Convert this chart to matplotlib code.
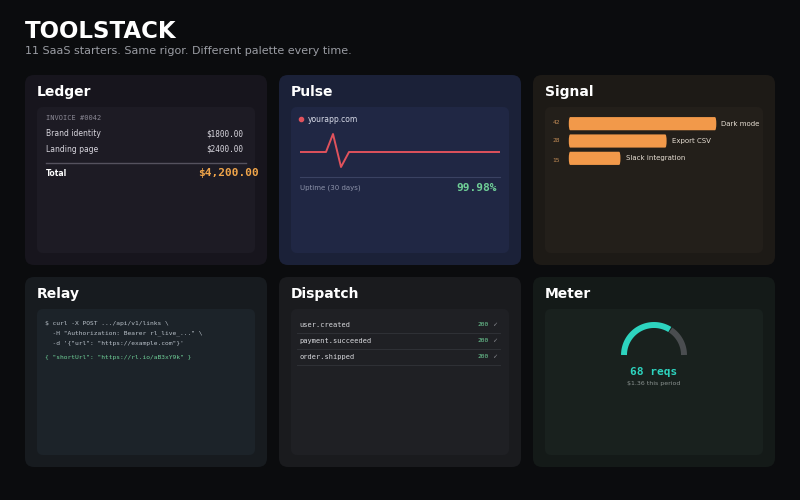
import numpy as np
import matplotlib.pyplot as plt
from matplotlib.patches import FancyBboxPatch

# data
invoice_items = ["Brand identity", "Landing page"]
invoice_amounts = [1800.00, 2400.00]
invoice_total = 4200.00
pulse_x = [0, 26, 33, 41, 49, 200]
pulse_y = [0, 0, 18, -15, 0, 0]
uptime = 99.98
features = ["Dark mode", "Export CSV", "Slack integration"]
votes = [42, 28, 15]
events = ["user.created", "payment.succeeded", "order.shipped"]
statuses = [200, 200, 200]
meter_reqs = 68
meter_frac = 0.68
meter_cost = 1.36

BG = "#0b0c0e"
MONO = "DejaVu Sans Mono"

fig = plt.figure(figsize=(8, 5), dpi=100, facecolor=BG)
ax = fig.add_axes([0, 0, 1, 1])
ax.set_xlim(0, 800)
ax.set_ylim(500, 0)
ax.set_axis_off()


def card(x, y, w, h, color, r=10):
    ax.add_patch(FancyBboxPatch((x + r, y + r), w - 2 * r, h - 2 * r,
                                boxstyle=f"round,pad={r}", fc=color, ec="none"))


ax.text(25, 31, "TOOLSTACK", color="white", fontsize=16.5, weight="bold", va="center")
ax.text(25, 51, "11 SaaS starters. Same rigor. Different palette every time.",
        color="#9a9ca3", fontsize=8, va="center")

cols = [25, 279, 533]
rows = [75, 277]
names = [["Ledger", "Pulse", "Signal"], ["Relay", "Dispatch", "Meter"]]
outer = [["#17151d", "#1b2138", "#1d1a16"], ["#171b1f", "#1a1b1e", "#141a18"]]
inner = [["#1d1b24", "#202744", "#231f1a"], ["#1c2329", "#1f2024", "#19211e"]]
for i, y in enumerate(rows):
    for j, x in enumerate(cols):
        card(x, y, 242, 190, outer[i][j], r=9)
        card(x + 12, y + 32, 218, 146, inner[i][j], r=6)
        ax.text(x + 12, y + 17, names[i][j], color="white", fontsize=10,
                weight="bold", va="center")

# Ledger
ax.text(46, 118, "INVOICE #0042", color="#8a8894", fontsize=5, family=MONO, va="center")
for k, (item, amt) in enumerate(zip(invoice_items, invoice_amounts)):
    yy = 134 + 15 * k
    ax.text(46, yy, item, color="#d8d6de", fontsize=5.5, va="center")
    ax.text(243, yy, f"${amt:.2f}", color="#d8d6de", fontsize=5.5, family=MONO,
            va="center", ha="right")
ax.plot([46, 246], [163, 163], color="#55525e", lw=1)
ax.text(46, 173, "Total", color="white", fontsize=5.5, weight="bold", va="center")
ax.text(259, 173, f"${invoice_total:,.2f}", color="#f0a54a", fontsize=8,
        weight="bold", family=MONO, va="center", ha="right")

# Pulse
ax.plot(301, 119, "o", color="#e0525c", ms=3)
ax.text(308, 119, "yourapp.com", color="#d8dbe8", fontsize=5.5, va="center")
pax = fig.add_axes([300 / 800, 1 - 175 / 500, 200 / 800, 50 / 500])
pax.set_xlim(0, 200)
pax.set_ylim(-23, 27)
pax.set_axis_off()
pax.plot(pulse_x, pulse_y, color="#e0525c", lw=1.4)
ax.plot([300, 500], [177, 177], color="#3a4262", lw=0.8)
ax.text(300, 188, "Uptime (30 days)", color="#8d93aa", fontsize=5, va="center")
ax.text(497, 188, f"{uptime:.2f}%", color="#6fcf97", fontsize=8, weight="bold",
        family=MONO, va="center", ha="right")

# Signal
sax = fig.add_axes([568 / 800, 1 - 167 / 500, 195 / 800, 52 / 500])
sax.set_xlim(0, 195 / 3.55)
sax.set_ylim(2.5, -0.5)
sax.set_axis_off()
for k, (f, v) in enumerate(zip(features, votes)):
    sax.add_patch(FancyBboxPatch((0.3, k - 0.3), v - 0.6, 0.6,
                                 boxstyle="round,pad=0.08,rounding_size=0.4",
                                 fc="#f2994a", ec="none", mutation_aspect=1))
    sax.text(v + 1.2, k, f, color="#e6ded3", fontsize=5, va="center")
    ax.text(556, 122 + 19 * k, str(v), color="#c08a55", fontsize=4.5,
            family=MONO, va="center", ha="center")

# Relay
relay_lines = ["$ curl -X POST .../api/v1/links \\",
               "  -H \"Authorization: Bearer rl_live_...\" \\",
               "  -d '{\"url\": \"https://example.com\"}'"]
for k, line in enumerate(relay_lines):
    ax.text(45, 323 + 10 * k, line, color="#b9c1c9", fontsize=4.5, family=MONO, va="center")
ax.text(45, 357, "{ \"shortUrl\": \"https://rl.io/aB3xY9k\" }", color="#6fcf97",
        fontsize=4.5, family=MONO, va="center")

# Dispatch
for k, (e, s) in enumerate(zip(events, statuses)):
    yy = 325 + 16 * k
    ax.text(299, yy, e, color="#d8d9dd", fontsize=5, family=MONO, va="center")
    ax.text(489, yy, f"{s}", color="#6fcf97", fontsize=4.5, family=MONO,
            va="center", ha="right")
    ax.text(492, yy, "\u2713", color="#8a8c92", fontsize=4.5, va="center")
    ax.plot([297, 500], [yy + 8, yy + 8], color="#2e3035", lw=0.8)

# Meter
cx, cy, rad = 654, 355, 30
th = np.linspace(np.pi, 0, 100)
split = np.pi * (1 - meter_frac)
t1 = th[th >= split]
t2 = th[th <= split]
ax.plot(cx + rad * np.cos(t2), cy - rad * np.sin(t2), color="#4a4d50", lw=4.3,
        solid_capstyle="butt")
ax.plot(cx + rad * np.cos(t1), cy - rad * np.sin(t1), color="#2dd4bf", lw=4.3,
        solid_capstyle="butt")
ax.text(654, 372, f"{meter_reqs} reqs", color="#2dd4bf", fontsize=8, weight="bold",
        family=MONO, va="center", ha="center")
ax.text(654, 384, f"${meter_cost:.2f} this period", color="#8a9290", fontsize=4.5,
        va="center", ha="center")

fig.savefig("out.png", dpi=100, facecolor=BG)
